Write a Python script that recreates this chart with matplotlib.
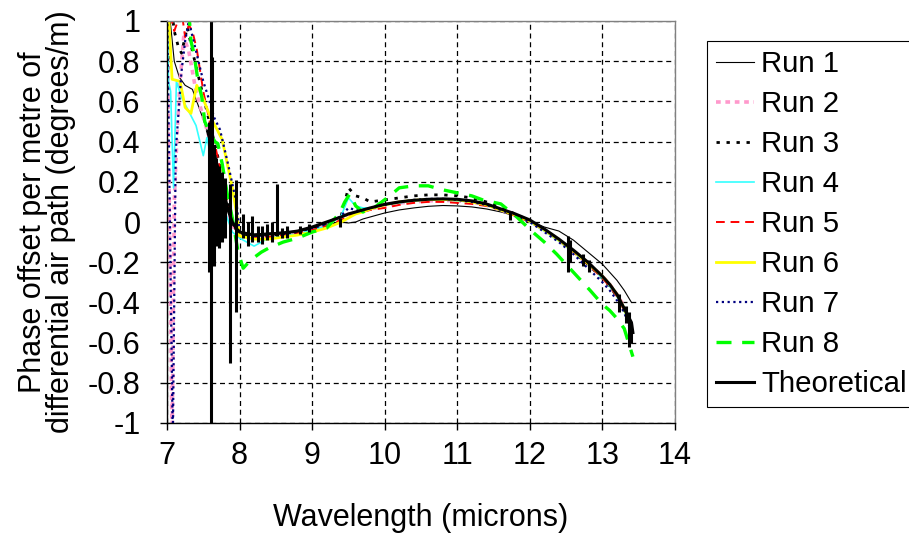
import matplotlib
matplotlib.use("Agg")
import matplotlib.pyplot as plt

plt.rcParams['font.family'] = ['Liberation Sans', 'DejaVu Sans']

# ---------------- data ----------------
MID_WL = [8.0, 8.2, 8.4, 8.6, 8.8, 9.0, 9.2, 9.4, 9.5, 9.6, 9.7, 9.8, 10.0, 10.2, 10.4,
          10.6, 10.8, 11.0, 11.2, 11.4, 11.6, 11.8, 12.0, 12.2, 12.4, 12.6, 12.8, 13.0,
          13.1, 13.2, 13.3, 13.4]

RUN1_WL = [7.0, 7.05, 7.1, 7.17, 7.25, 7.35, 7.45, 7.55, 7.65, 7.75, 7.85, 7.92] + MID_WL
RUN1_VAL = [1.1, 0.98, 0.80, 0.72, 0.68, 0.66, 0.56, 0.46, 0.32, 0.18, 0.05, -0.03,
            -0.06, -0.06, -0.055, -0.05, -0.045, -0.035, -0.015, 0.0, -0.005, 0.0, 0.015, 0.025,
            0.045, 0.06, 0.07, 0.078, 0.082, 0.08, 0.075, 0.065, 0.05, 0.03, 0.005, -0.025,
            -0.045, -0.09, -0.15, -0.21, -0.25, -0.29, -0.34, -0.40]

RUN2_WL = [7.0, 7.07, 7.10, 7.14, 7.18, 7.23, 7.3, 7.4, 7.5, 7.6, 7.7, 7.8, 7.9] + MID_WL
RUN2_VAL = [1.1, -1.1, 0.1, 0.45, 0.7, 0.92, 0.85, 0.65, 0.52, 0.40, 0.25, 0.10, -0.02,
            -0.06, -0.075, -0.07, -0.06, -0.05, -0.035, -0.01, 0.02, 0.04, 0.045, 0.055, 0.065,
            0.08, 0.095, 0.10, 0.105, 0.108, 0.105, 0.10, 0.085, 0.06, 0.035, 0.005, -0.04,
            -0.09, -0.145, -0.205, -0.27, -0.31, -0.36, -0.42, -0.52]

RUN3_WL = [7.0, 7.05, 7.1, 7.15, 7.2, 7.28, 7.35, 7.45, 7.55, 7.65, 7.75, 7.85, 7.92] + MID_WL
RUN3_VAL = [0.66, 1.1, 0.95, 0.88, 0.84, 0.97, 0.85, 0.70, 0.55, 0.40, 0.25, 0.10, -0.02,
            -0.07, -0.07, -0.065, -0.06, -0.05, -0.03, -0.005, 0.03, 0.17, 0.13, 0.12, 0.10,
            0.11, 0.12, 0.13, 0.135, 0.135, 0.13, 0.12, 0.10, 0.07, 0.04, 0.005, -0.04,
            -0.09, -0.15, -0.21, -0.28, -0.32, -0.37, -0.44, -0.54]

RUN4_WL = [7.0, 7.02, 7.05, 7.09, 7.13, 7.2, 7.3, 7.4, 7.5, 7.55, 7.62, 7.7, 7.8, 7.9] + MID_WL
RUN4_VAL = [1.1, 0.70, 0.65, 0.17, 0.70, 0.62, 0.55, 0.48, 0.33, 0.42, 0.30, 0.18, 0.05, -0.05,
            -0.08, -0.12, -0.08, -0.07, -0.06, -0.04, -0.02, 0.03, 0.12, 0.08, 0.07, 0.07,
            0.085, 0.095, 0.105, 0.11, 0.11, 0.105, 0.10, 0.085, 0.06, 0.035, 0.0, -0.045,
            -0.095, -0.15, -0.21, -0.28, -0.32, -0.37, -0.44, -0.54]

RUN5_WL = [7.0, 7.1, 7.2, 7.25, 7.3, 7.35, 7.41, 7.5, 7.6, 7.7, 7.8, 7.9] + MID_WL
RUN5_VAL = [1.1, 0.95, 1.05, 0.92, 0.98, 0.95, 0.86, 0.65, 0.48, 0.32, 0.15, 0.0,
            -0.07, -0.08, -0.075, -0.065, -0.055, -0.04, -0.02, 0.01, 0.03, 0.045, 0.05, 0.06,
            0.07, 0.085, 0.095, 0.10, 0.10, 0.095, 0.09, 0.08, 0.06, 0.03, 0.0, -0.04,
            -0.09, -0.15, -0.21, -0.28, -0.32, -0.37, -0.44, -0.55]

RUN6_WL = [7.02, 7.07, 7.18, 7.25, 7.33, 7.41, 7.48, 7.6, 7.69, 7.76, 7.83, 7.9, 7.96] + MID_WL
RUN6_VAL = [1.05, 0.71, 0.70, 0.57, 0.54, 0.68, 0.63, 0.52, 0.46, 0.41, 0.29, 0.17, 0.04,
            -0.07, -0.085, -0.085, -0.075, -0.065, -0.05, -0.03, 0.0, 0.02, 0.04, 0.05, 0.065,
            0.085, 0.10, 0.108, 0.112, 0.112, 0.11, 0.10, 0.085, 0.06, 0.035, 0.005, -0.04,
            -0.09, -0.145, -0.205, -0.27, -0.31, -0.36, -0.43, -0.53]

RUN7_WL = [7.0, 7.08, 7.12, 7.16, 7.2, 7.25, 7.3, 7.4, 7.5, 7.57, 7.65, 7.73, 7.84, 7.96] + MID_WL
RUN7_VAL = [1.1, -1.1, 0.35, 0.55, 0.75, 0.90, 1.0, 0.85, 0.70, 0.62, 0.52, 0.46, 0.29, 0.09,
            -0.05, -0.07, -0.065, -0.06, -0.05, -0.03, -0.01, 0.03, 0.07, 0.06, 0.06, 0.07,
            0.085, 0.10, 0.11, 0.115, 0.115, 0.11, 0.10, 0.085, 0.06, 0.03, 0.0, -0.05,
            -0.10, -0.16, -0.23, -0.30, -0.34, -0.39, -0.45, -0.55]

RUN8_WL = [7.3, 7.33, 7.37, 7.42, 7.48, 7.52, 7.58, 7.66, 7.70, 7.76, 7.83, 7.9, 7.98,
           8.05, 8.15, 8.3, 8.4, 8.6, 8.8, 9.0, 9.2, 9.38, 9.45, 9.52, 9.6, 9.7, 9.85,
           10.07, 10.2, 10.4, 10.6, 10.8, 11.0, 11.2, 11.35, 11.6, 11.82, 12.04, 12.2,
           12.37, 12.6, 12.83, 13.0, 13.1, 13.2, 13.3, 13.42]
RUN8_VAL = [1.05, 0.9, 0.84, 0.72, 0.62, 0.50, 0.45, 0.40, 0.39, 0.29, 0.14, 0.02, -0.15,
            -0.23, -0.19, -0.15, -0.13, -0.10, -0.08, -0.05, -0.03, 0.045, 0.10, 0.14, 0.08,
            0.05, 0.07, 0.13, 0.17, 0.18, 0.18, 0.16, 0.145, 0.13, 0.11, 0.09, 0.025, -0.05,
            -0.10, -0.16, -0.25, -0.34, -0.41, -0.44, -0.48, -0.53, -0.67]

THEO_WL = [7.56, 7.6, 7.65, 7.7, 7.75, 7.8, 7.85, 7.9, 7.95] + MID_WL + [13.42]
THEO_VAL = [0.45, 0.40, 0.34, 0.27, 0.20, 0.12, 0.05, 0.0, -0.03,
            -0.05, -0.065, -0.06, -0.055, -0.045, -0.025, 0.0, 0.025, 0.04, 0.05, 0.06, 0.07,
            0.088, 0.10, 0.108, 0.113, 0.115, 0.113, 0.105, 0.09, 0.065, 0.04, 0.01, -0.035,
            -0.085, -0.14, -0.20, -0.27, -0.31, -0.36, -0.43, -0.50, -0.55]

# absorption-line spikes on the theoretical curve: wavelength, low end, high end
SPIKE_WL = [7.575, 7.60, 7.625, 7.65, 7.68, 7.72, 7.76, 7.80, 7.87, 7.95, 8.05, 8.12, 8.17,
            8.25, 8.31, 8.38, 8.45, 8.52, 8.59, 8.66, 8.83, 8.95, 9.38, 11.72, 12.52,
            12.56, 12.73, 12.82, 13.23, 13.33, 13.36, 13.4]
SPIKE_LO = [-0.25, -1.05, -0.2, -0.22, -0.12, -0.13, -0.10, -0.08, -0.70, -0.45, -0.08,
            -0.12, -0.10, -0.10, -0.11, -0.09, -0.10, -0.07, -0.08, -0.08, -0.06, -0.05,
            -0.025, 0.01, -0.25, -0.20, -0.22, -0.25, -0.45, -0.50, -0.62, -0.60]
SPIKE_HI = [0.50, 1.05, 0.82, 0.38, 0.32, 0.28, 0.25, 0.22, 0.19, 0.21, 0.04, 0.0, 0.03,
            -0.02, -0.02, -0.01, 0.0, 0.19, -0.03, -0.02, -0.02, -0.01, 0.02, 0.05, -0.07,
            -0.09, -0.16, -0.19, -0.36, -0.42, -0.45, -0.50]

LABELS = ['Run 1', 'Run 2', 'Run 3', 'Run 4', 'Run 5', 'Run 6', 'Run 7', 'Run 8', 'Theoretical']
X_TICKS = [7, 8, 9, 10, 11, 12, 13, 14]
Y_TICKS = [-1, -0.8, -0.6, -0.4, -0.2, 0, 0.2, 0.4, 0.6, 0.8, 1]
Y_TICK_LABELS = ['-1', '-0.8', '-0.6', '-0.4', '-0.2', '0', '0.2', '0.4', '0.6', '0.8', '1']

# ---------------- figure ----------------
FS = 22
LEG_FS = 21.2
fig = plt.figure(figsize=(9.09, 5.36), dpi=100)
W, H = 909, 536
ax = fig.add_axes([167 / W, 1 - 423 / H, (675 - 167) / W, (423 - 21) / H])

styles = [
    dict(color='black', lw=0.8, ls='-'),
    dict(color='#FF99CC', lw=2.6, dashes=(1.3, 1.3)),
    dict(color='black', lw=2.0, dashes=(1.2, 2.4)),
    dict(color='#33FFFF', lw=1.2, ls='-'),
    dict(color='#FF0000', lw=1.4, dashes=(4.5, 3.0)),
    dict(color='#FFFF00', lw=2.0, ls='-'),
    dict(color='#000080', lw=1.6, dashes=(1.0, 1.6)),
    dict(color='#00FF00', lw=2.4, dashes=(4.5, 3.2)),
]
series = [(RUN1_WL, RUN1_VAL), (RUN2_WL, RUN2_VAL), (RUN3_WL, RUN3_VAL), (RUN4_WL, RUN4_VAL),
          (RUN5_WL, RUN5_VAL), (RUN6_WL, RUN6_VAL), (RUN7_WL, RUN7_VAL), (RUN8_WL, RUN8_VAL)]

handles = []
for (wl, val), st, lab in zip(series, styles, LABELS[:8]):
    h, = ax.plot(wl, val, label=lab, **st)
    handles.append(h)

h, = ax.plot(THEO_WL, THEO_VAL, color='black', lw=2.2, label=LABELS[8])
ax.vlines(SPIKE_WL, SPIKE_LO, SPIKE_HI, color='black', lw=2.2)
handles.append(h)

ax.set_xlim(7, 14)
ax.set_ylim(-1, 1)
ax.set_xticks(X_TICKS)
ax.set_yticks(Y_TICKS)
ax.set_yticklabels(Y_TICK_LABELS)
ax.tick_params(axis='both', direction='out', length=5, width=1, labelsize=FS, colors='black')
ax.tick_params(axis='x', pad=8)
ax.tick_params(axis='y', pad=14)
ax.grid(True, color='black', lw=0.9, linestyle=(0, (4, 3)))
ax.set_axisbelow(True)

ax.spines['left'].set_color('black')
ax.spines['bottom'].set_color('black')
ax.spines['top'].set_color('#808080')
ax.spines['right'].set_color('#808080')
for s in ax.spines.values():
    s.set_linewidth(1.0)

fig.text(47 / W, 1 - 222 / H,
         'Phase offset per metre of\ndifferential air path (degrees/m)',
         rotation=90, ha='center', va='center', multialignment='center', fontsize=FS,
         linespacing=0.9)
fig.text(421 / W, 1 - 518 / H, 'Wavelength (microns)', ha='center', va='center', fontsize=FS)

leg = fig.legend(handles=handles, labels=LABELS, loc='upper left',
                 bbox_to_anchor=(707 / W, 1 - 41 / H), bbox_transform=fig.transFigure,
                 fontsize=LEG_FS, frameon=True, fancybox=False, shadow=False,
                 borderpad=0.3, labelspacing=0.41, handlelength=1.3, handletextpad=0.24,
                 borderaxespad=0.0)
leg.get_frame().set_edgecolor('black')
leg.get_frame().set_linewidth(0.8)
leg.get_frame().set_alpha(None)

fig.savefig('out.png', dpi=100)
